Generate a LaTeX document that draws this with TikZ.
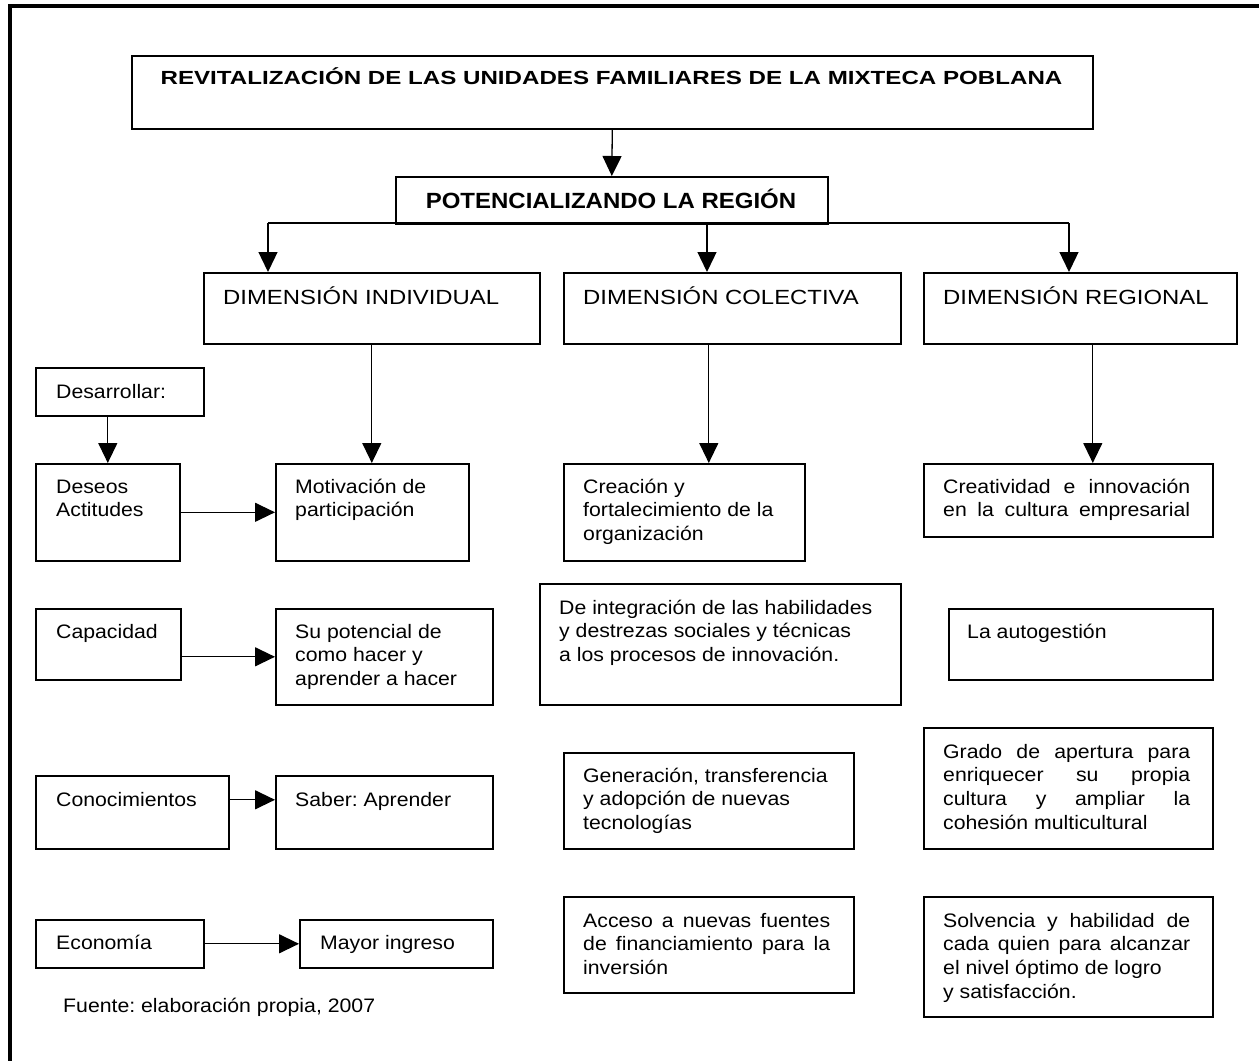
\documentclass[tikz,border=0pt]{standalone}
\usepackage{fontspec}
\setmainfont{Liberation Sans}
\newfontfamily\bodyf[FakeStretch=1.09]{Liberation Sans}
\newfontfamily\dimf[FakeStretch=1.165]{Liberation Sans}
\newfontfamily\titf[FakeStretch=1.27]{Liberation Sans}
\newfontfamily\potf[FakeStretch=1.09]{Liberation Sans}
\usetikzlibrary{arrows.meta}
\frenchspacing
\newcommand\ml[1]{\vtop{\baselineskip=23.8pt\lineskiplimit=-20pt\lineskip=0pt\halign{##\hfil\cr#1\crcr}}}
\newcommand\js[1]{\makebox[247pt][s]{#1}}
\newcommand\mybox[5]{\node[box,anchor=north west,minimum width={(#4)-(#2)},minimum height={(#5)-(#3)}] (#1) at (#2,#3) {};}
\begin{document}
\begin{tikzpicture}[x=1pt,y=-1pt,
  box/.style={draw,line width=1.6pt,rectangle,inner sep=0pt},
  body/.style={inner sep=0pt,anchor=base west,font=\bodyf\frenchspacing\fontsize{19.5}{23.8}\selectfont},
  dimt/.style={inner sep=0pt,anchor=base west,font=\dimf\fontsize{20.5}{24}\selectfont},
  titt/.style={inner sep=0pt,anchor=base,font=\titf\bfseries\fontsize{19}{23}\selectfont},
  pott/.style={inner sep=0pt,anchor=base,font=\potf\bfseries\fontsize{22}{26}\selectfont},
  arr/.style={line width=1.3pt,-{Triangle[length=20pt,width=19pt]}},
  conn/.style={line width=1.3pt}]
\useasboundingbox[fill=white] (0,0) rectangle (1259,1061);
% outer frame (top and left sides visible)
\draw[line width=4pt] (1259,6) -- (9.5,6) -- (9.5,1061);

% boxes
\mybox{title}{131}{55}{1092}{128}
\mybox{pot}{395}{176}{827}{223}
\mybox{dimI}{203}{272}{539}{343}
\mybox{dimC}{563}{272}{900}{343}
\mybox{dimR}{923}{272}{1236}{343}
\mybox{des}{35}{367}{203}{415}
\mybox{deseos}{35}{463}{179}{560}
\mybox{motiv}{275}{463}{468}{560}
\mybox{creac}{563}{463}{804}{560}
\mybox{creat}{923}{463}{1212}{536}
\mybox{capac}{35}{608}{180}{679}
\mybox{supot}{275}{608}{492}{704}
\mybox{integ}{539}{583}{900}{704}
\mybox{autog}{948}{608}{1212}{679}
\mybox{conoc}{35}{775}{228}{848}
\mybox{saber}{275}{775}{492}{848}
\mybox{gener}{563}{752}{853}{848}
\mybox{grado}{923}{727}{1212}{848}
\mybox{econ}{35}{919}{203}{967}
\mybox{mayor}{299}{919}{492}{967}
\mybox{acceso}{563}{896}{853}{992}
\mybox{solv}{923}{896}{1212}{1016}

% texts
\node[titt] (tTitle) at (611.5,84) {REVITALIZACIÓN DE LAS UNIDADES FAMILIARES DE LA MIXTECA POBLANA};
\node[pott] (tPot) at (611,208) {POTENCIALIZANDO LA REGIÓN};
\node[dimt] (tDimI) at (223,304) {DIMENSIÓN INDIVIDUAL};
\node[dimt] (tDimC) at (583,304) {DIMENSIÓN COLECTIVA};
\node[dimt] (tDimR) at (943,304) {DIMENSIÓN REGIONAL};
\node[body] (tDes) at (56,398) {Desarrollar:};
\node[body] (tDeseos) at (56,493) {\ml{Deseos\cr Actitudes}};
\node[body] (tMotiv) at (295,493) {\ml{Motivación de\cr participación}};
\node[body] (tCreac) at (583,493) {\ml{Creación y\cr fortalecimiento de la\cr organización}};
\node[body] (tCreat) at (943,493) {\ml{\js{Creatividad e innovación}\cr \js{en la cultura empresarial}}};
\node[body] (tCapac) at (56,638) {Capacidad};
\node[body] (tSupot) at (295,638) {\ml{Su potencial de\cr como hacer y\cr aprender a hacer}};
\node[body] (tInteg) at (559,614) {\ml{De integración de las habilidades\cr y destrezas sociales y técnicas\cr a los procesos de innovación.}};
\node[body] (tAutog) at (967,638) {La autogestión};
\node[body] (tConoc) at (56,806) {Conocimientos};
\node[body] (tSaber) at (295,806) {Saber: Aprender};
\node[body] (tGener) at (583,782) {\ml{Generación, transferencia\cr y adopción de nuevas\cr tecnologías}};
\node[body] (tGrado) at (943,758) {\ml{\js{Grado de apertura para}\cr \js{enriquecer su propia}\cr \js{cultura y ampliar la}\cr cohesión multicultural}};
\node[body] (tEcon) at (56,949) {Economía};
\node[body] (tMayor) at (320,949) {Mayor ingreso};
\node[body] (tAcceso) at (583,927) {\ml{\js{Acceso a nuevas fuentes}\cr \js{de financiamiento para la}\cr inversión}};
\node[body] (tSolv) at (943,927) {\ml{\js{Solvencia y habilidad de}\cr \js{cada quien para alcanzar}\cr el nivel óptimo de logro\cr y satisfacción.}};
\node[body] (tFuente) at (63,1012) {Fuente: elaboración propia, 2007};

% connectors
\draw[arr] (title.south) -- (pot.north);
\coordinate (hl) at (268,223);
\coordinate (hc) at (707,223);
\coordinate (hr) at (1069,223);
\draw[conn] (hl) -- (hr);
\draw[arr] (hl) -- (hl |- dimI.north);
\draw[arr] (hc) -- (hc |- dimC.north);
\draw[arr] (hr) -- (hr |- dimR.north);
\draw[arr] (dimI.south) -- (dimI.south |- motiv.north);
\draw[arr] ([xshift=-23.5pt]dimC.south) -- ([xshift=-23.5pt]dimC.south |- creac.north);
\draw[arr] ([xshift=12.5pt]dimR.south) -- ([xshift=12.5pt]dimR.south |- creat.north);
\draw[arr] (deseos.north |- des.south) -- (deseos.north);
\draw[arr] (deseos.east) -- (deseos.east -| motiv.west);
\draw[arr] (capac.east |- supot.west) -- (supot.west);
\draw[arr] ([yshift=12.5pt]conoc.east) -- ([yshift=12.5pt]conoc.east -| saber.west);
\draw[arr] (econ.east) -- (econ.east -| mayor.west);
\end{tikzpicture}
\end{document}
